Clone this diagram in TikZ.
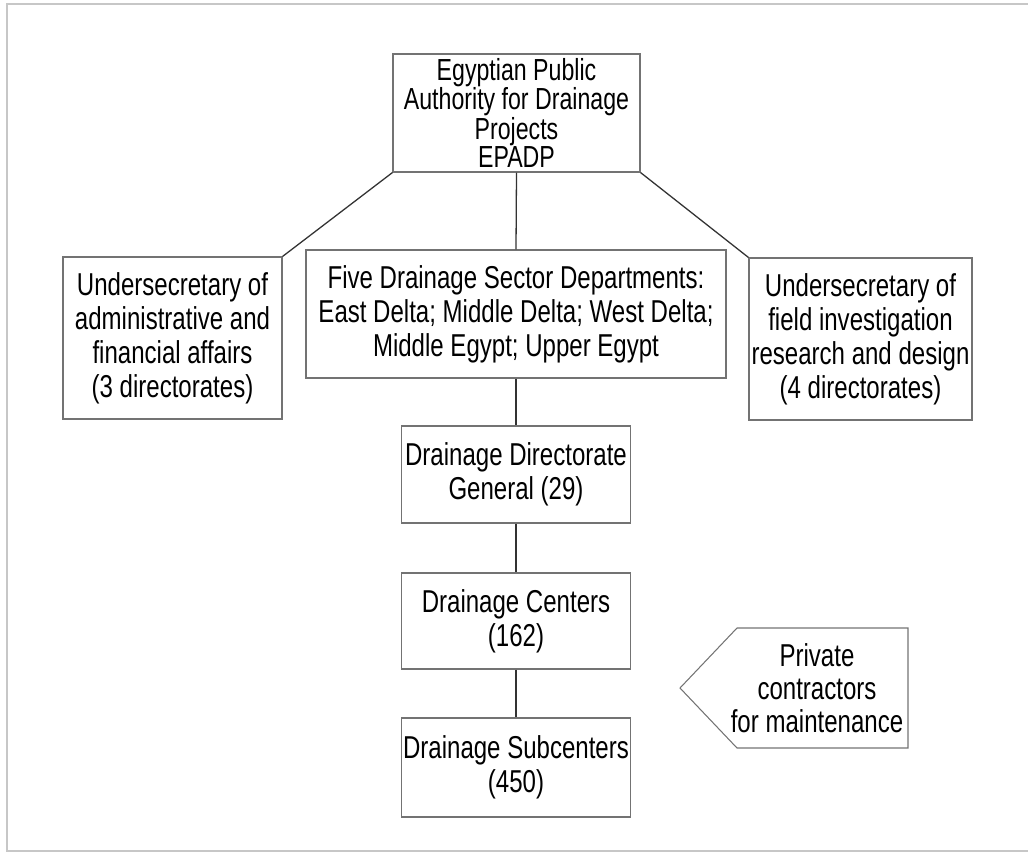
\documentclass[tikz,border=0pt]{standalone}
\usepackage{fontspec}
\setmainfont{Liberation Sans}[FakeStretch=0.76]
\usetikzlibrary{positioning}
\tikzset{
	box/.style={draw=black!55,line width=0.9pt,align=center,inner sep=0pt,
		font=\fontsize{27}{29}\selectfont},
	link/.style={draw=black!80,line width=1.1pt},
	frame/.style={draw=black!22,line width=2.2pt}
}

\begin{document}
\begin{tikzpicture}[x=0.03cm,y=-0.03cm]
					\useasboundingbox (0,0) rectangle (1028,854);
					%FRAME
					\draw[frame] (1028,4) -- (7,4) -- (7,851) -- (1028,851);
					%BOXES
					\node[box,minimum width=7.41cm,minimum height=3.54cm,
						font=\fontsize{26}{23}\selectfont] (epadp) at (516.5,113)
						{Egyptian Public\\Authority for Drainage\\Projects\\EPADP};
					\node[box,minimum width=6.57cm,minimum height=4.86cm] (admin) at (172.5,338)
						{Undersecretary of\\administrative and\\financial affairs\\(3 directorates)};
					\node[box,minimum width=12.6cm,minimum height=3.84cm] (sectors) at (516,314)
						{Five Drainage Sector Departments:\\East Delta; Middle Delta; West Delta;\\Middle Egypt; Upper Egypt};
					\node[box,minimum width=6.69cm,minimum height=4.86cm] (field) at (860.5,339)
						{Undersecretary of\\field investigation\\research and design\\(4 directorates)};
					\node[box,minimum width=6.87cm,minimum height=2.91cm] (dirgen) at (516,474.5)
						{Drainage Directorate\\General (29)};
					\node[box,minimum width=6.87cm,minimum height=2.88cm] (centers) at (516,621)
						{Drainage Centers\\(162)};
					\node[box,minimum width=6.87cm,minimum height=2.97cm] (subcenters) at (516,767.5)
						{Drainage Subcenters\\(450)};
					%CONTRACTORS
					\draw[draw=black!55,line width=0.9pt] (737,628) -- (908,628) -- (908,748)
						-- (737,748) -- (680,688) -- cycle;
					\node[align=center,font=\fontsize{27}{28}\selectfont] (private) at (817,688)
						{Private\\contractors\\for maintenance};
					%LINES
					\draw[link] (epadp.south west) -- (admin.north east);
					\draw[link] (epadp.south) -- (sectors.north);
					\draw[link] (epadp.south east) -- (field.north west);
					\draw[link] (sectors.south) -- (dirgen.north);
					\draw[link] (dirgen.south) -- (centers.north);
					\draw[link] (centers.south) -- (subcenters.north);
\end{tikzpicture}
\end{document}
